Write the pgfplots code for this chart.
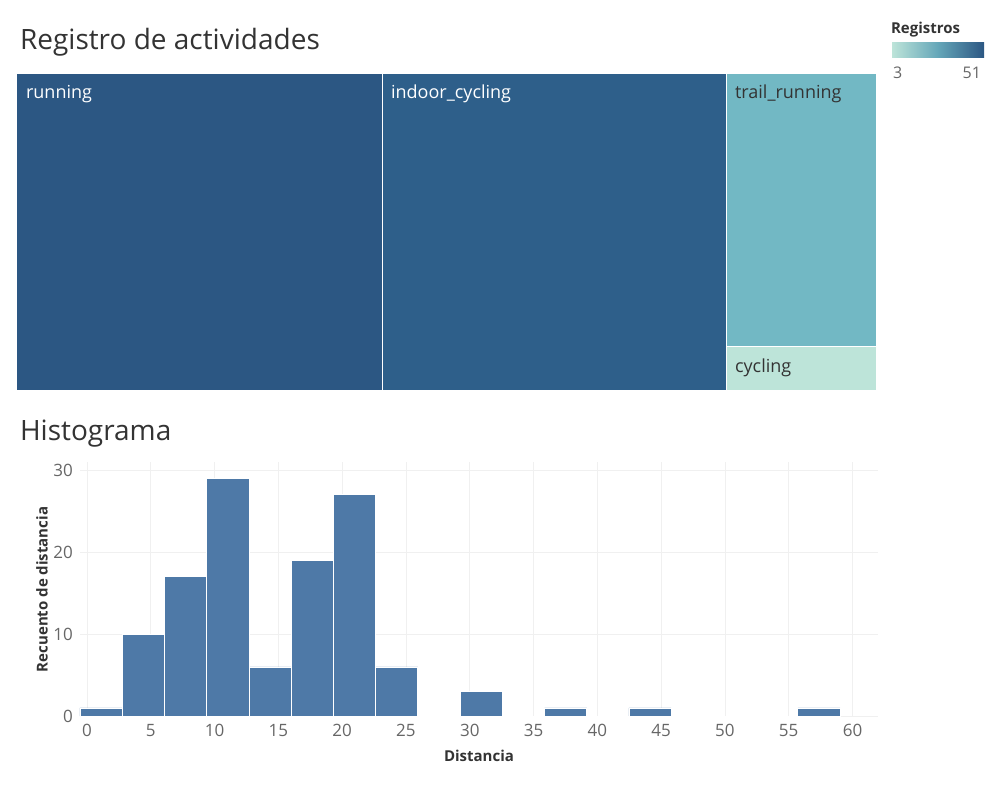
\documentclass[border=0pt]{standalone}
\usepackage{pgfplots}
\pgfplotsset{compat=1.18}
\usepackage{fontspec}
\setmainfont{Open Sans}
\definecolor{c1}{HTML}{2C5783}
\definecolor{c2}{HTML}{2E5F8A}
\definecolor{c3}{HTML}{72B8C4}
\definecolor{c4}{HTML}{BDE4D9}
\definecolor{bar}{HTML}{4E79A7}
\definecolor{tx}{HTML}{333333}
\definecolor{tk}{HTML}{666666}
\begin{document}
\begin{tikzpicture}
\path (0pt,0pt) rectangle (500pt,400pt);
\node[anchor=west,text=tx,font=\fontsize{14}{16}\selectfont] at (6.5pt,379pt) {Registro de actividades};
\node[anchor=west,text=tx,font=\fontsize{14}{16}\selectfont] at (6.5pt,183pt) {Histograma};
% legend
\node[anchor=west,text=tx,font=\bfseries\fontsize{7.5}{9}\selectfont] at (442pt,385pt) {Registros};
\shade[left color=c4,right color=c1,middle color=c3!80!c2] (446pt,371pt) rectangle (492pt,378.5pt);
\node[anchor=west,text=tk,font=\fontsize{8}{9}\selectfont] at (443pt,363.5pt) {3};
\node[anchor=east,text=tk,font=\fontsize{8}{9}\selectfont] at (494pt,363.5pt) {51};
\begin{axis}[at={(8.5pt,205pt)},anchor=south west,width=429.5pt,height=158pt,scale only axis,
  xmin=0,xmax=859,ymin=0,ymax=316,hide axis,clip=false]
\addplot[fill=c1,draw=white,line width=0.5pt] coordinates {(0,0)(365,0)(365,316)(0,316)} --cycle;
\addplot[fill=c2,draw=white,line width=0.5pt] coordinates {(365,0)(709,0)(709,316)(365,316)} --cycle;
\addplot[fill=c3,draw=white,line width=0.5pt] coordinates {(709,44)(859,44)(859,316)(709,316)} --cycle;
\addplot[fill=c4,draw=white,line width=0.5pt] coordinates {(709,0)(859,0)(859,44)(709,44)} --cycle;
\node[anchor=west,text=white,font=\fontsize{9}{11}\selectfont] at (axis cs:2,296) {running};
\node[anchor=west,text=white,font=\fontsize{9}{11}\selectfont] at (axis cs:367,296) {indoor\_cycling};
\node[anchor=west,text=tx,font=\fontsize{9}{11}\selectfont] at (axis cs:711,296) {trail\_running};
\node[anchor=west,text=tx,font=\fontsize{9}{11}\selectfont] at (axis cs:711,22) {cycling};
\end{axis}
\begin{axis}[at={(40pt,41.5pt)},anchor=south west,width=399pt,height=127.5pt,scale only axis,
  xmin=-0.55,xmax=62,ymin=-0.1,ymax=31,
  axis line style={draw=none},tick style={draw=none},
  grid=major,grid style={draw=black!6},
  xtick={0,5,...,60},ytick={0,10,20,30},
  ticklabel style={text=tk,font=\fontsize{8.5}{10}\selectfont},
  /pgf/number format/assume math mode=true,
  xlabel={Distancia},ylabel={Recuento de distancia},
  label style={text=tx,font=\bfseries\fontsize{7.5}{9}\selectfont},
  ylabel style={yshift=-4pt}]
\addplot[ybar interval,fill=bar,draw=white,line width=0.4pt] coordinates {
(-0.55,1)(2.76,10)(6.07,17)(9.38,29)(12.69,6)(16.0,19)(19.31,27)(22.62,6)(25.93,0)(29.24,3)(32.55,0)(35.86,1)(39.17,0)(42.48,1)(45.79,0)(49.1,0)(52.41,0)(55.72,1)(59.03,1)};
\end{axis}
\end{tikzpicture}
\end{document}
